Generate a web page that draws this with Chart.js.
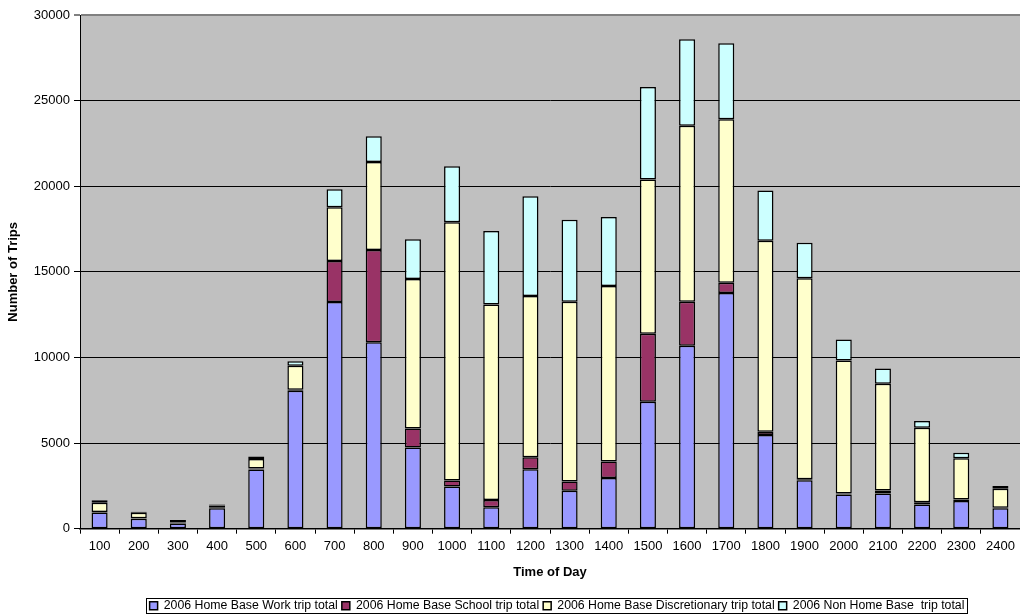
<!DOCTYPE html>
<html>
<head>
<meta charset="utf-8">
<title>Trips by Time of Day</title>
<script src="https://cdn.jsdelivr.net/npm/chart.js@4/dist/chart.umd.min.js"></script>
<style>
  html, body { margin: 0; padding: 0; background: #ffffff; }
  #wrap { width: 1020px; height: 616px; }
</style>
</head>
<body>
<div id="wrap"><canvas id="c" width="1020" height="616"></canvas></div>
<script>
// Hour-of-day categories (HHMM)
const timeOfDay = ['100','200','300','400','500','600','700','800','900','1000','1100','1200',
                   '1300','1400','1500','1600','1700','1800','1900','2000','2100','2200','2300','2400'];

// Trip totals per hour, by trip purpose
const workTrips = [950, 580, 310, 1200, 3450, 8050, 13240, 10890, 4740, 2460, 1250, 3470,
                   2220, 2960, 7420, 10690, 13770, 5470, 2830, 2000, 2050, 1410, 1620, 1200];
const schoolTrips = [30, 30, 50, 30, 60, 60, 2390, 5390, 1110, 360, 420, 700,
                     540, 970, 3970, 2560, 600, 190, 60, 50, 180, 130, 80, 30];
const discretionaryTrips = [540, 320, 90, 120, 560, 1400, 3140, 5130, 8730, 15080, 11430, 9420,
                            10490, 10240, 9010, 10280, 9540, 11160, 11740, 7770, 6230, 4360, 2420, 1110];
const nonHomeTrips = [140, 60, 60, 70, 140, 270, 1050, 1510, 2320, 3270, 4280, 5820,
                      4790, 4030, 5400, 5060, 4440, 2930, 2070, 1230, 900, 390, 310, 160];

const seriesNames = ['2006 Home Base Work trip total', '2006 Home Base School trip total',
                     '2006 Home Base Discretionary trip total', '2006 Non Home Base  trip total'];

const yTicks = [0, 5000, 10000, 15000, 20000, 25000, 30000];

const FONT = '"Liberation Sans", Arial, Helvetica, sans-serif';

// Grey plot background, legend placement and a frame round the legend
const plotBackground = {
  id: 'plotBackground',
  afterLayout(chart) {
    const lg = chart.legend;
    if (!lg) return;
    lg.left += 47; lg.right += 47;
    lg.top += 3; lg.bottom += 3;
  },
  beforeDraw(chart) {
    const { ctx, chartArea: a } = chart;
    ctx.save();
    ctx.fillStyle = '#ffffff';
    ctx.fillRect(0, 0, chart.width, chart.height);
    ctx.fillStyle = '#c0c0c0';
    ctx.fillRect(a.left, a.top, a.right - a.left, a.bottom - a.top);
    ctx.restore();
  },
  afterDraw(chart) {
    const boxes = chart.legend && chart.legend.legendHitBoxes;
    if (!boxes || !boxes.length) return;
    let x0 = Infinity, x1 = -Infinity, y0 = Infinity, y1 = -Infinity;
    boxes.forEach(b => {
      x0 = Math.min(x0, b.left); x1 = Math.max(x1, b.left + b.width);
      y0 = Math.min(y0, b.top);  y1 = Math.max(y1, b.top + b.height);
    });
    const cy = (y0 + y1) / 2;
    const ctx = chart.ctx;
    ctx.save();
    ctx.strokeStyle = '#000000';
    ctx.lineWidth = 1;
    ctx.strokeRect(Math.round(x0 - 4) + 0.5, Math.round(cy - 8) + 0.5,
                   Math.round(x1 - x0 + 6), 15);
    ctx.restore();
  }
};

function series(label, data, color) {
  return {
    label, data,
    backgroundColor: color,
    borderColor: '#000000',
    borderWidth: 1.5,
    borderSkipped: false,
    categoryPercentage: 1.0,
    barPercentage: 0.41
  };
}

new Chart(document.getElementById('c'), {
  type: 'bar',
  data: {
    labels: timeOfDay,
    datasets: [
      series(seriesNames[0], workTrips, '#9999ff'),
      series(seriesNames[1], schoolTrips, '#993366'),
      series(seriesNames[2], discretionaryTrips, '#ffffcc'),
      series(seriesNames[3], nonHomeTrips, '#ccffff')
    ]
  },
  options: {
    responsive: false,
    animation: false,
    devicePixelRatio: 1,
    layout: { padding: { top: 15, right: 0, bottom: -3, left: 0 } },
    plugins: {
      tooltip: { enabled: false },
      legend: {
        display: true,
        position: 'bottom',
        labels: {
          color: '#000000',
          font: { family: FONT, size: 12.3 },
          boxWidth: 8,
          boxHeight: 8,
          padding: 4
        }
      }
    },
    scales: {
      x: {
        stacked: true,
        afterFit(scale) { scale.height = 64; },
        border: { display: true, color: '#000000', width: 1.5 },
        grid: {
          display: true,
          offset: true,
          drawOnChartArea: false,
          drawTicks: true,
          tickLength: 5,
          color: '#000000'
        },
        ticks: {
          color: '#000000',
          font: { family: FONT, size: 13 },
          maxRotation: 0,
          autoSkip: false,
          padding: 5
        },
        title: {
          display: true,
          text: 'Time of Day',
          color: '#000000',
          font: { family: FONT, size: 13, weight: 'bold' },
          padding: { top: 4, bottom: 12 }
        }
      },
      y: {
        stacked: true,
        min: 0,
        max: 30000,
        afterFit(scale) { scale.width = 80; },
        afterBuildTicks(scale) { scale.ticks = yTicks.map(v => ({ value: v })); },
        border: { display: true, color: '#000000', width: 1 },
        grid: {
          display: true,
          drawTicks: true,
          tickLength: 6,
          color: ctx => (ctx.tick && ctx.tick.value === 30000) ? '#808080' : '#000000',
          lineWidth: ctx => (ctx.tick && ctx.tick.value === 30000) ? 2 : 1
        },
        ticks: {
          color: '#000000',
          font: { family: FONT, size: 13 },
          padding: 4,
          callback: v => String(v)
        },
        title: {
          display: true,
          text: 'Number of Trips',
          color: '#000000',
          font: { family: FONT, size: 13, weight: 'bold' },
          padding: { top: 6, bottom: 4 }
        }
      }
    }
  },
  plugins: [plotBackground]
});
</script>
</body>
</html>
